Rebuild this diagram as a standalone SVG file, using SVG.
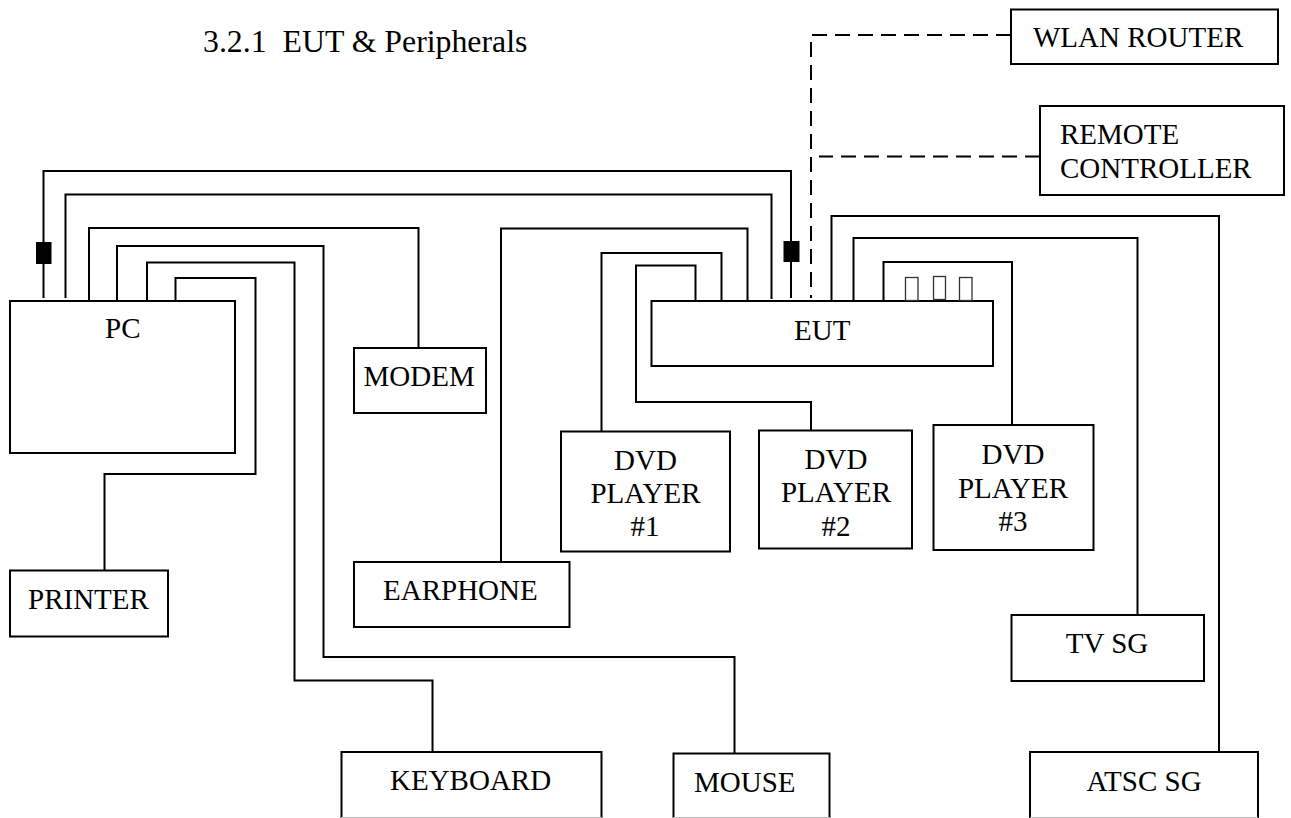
<svg xmlns="http://www.w3.org/2000/svg" width="1291" height="818" viewBox="0 0 1291 818">
<style>
.box{fill:#fff;stroke:#000;stroke-width:2}
.w{fill:none;stroke:#000;stroke-width:2}
.d{fill:none;stroke:#000;stroke-width:2;stroke-dasharray:15 8}
.thin{fill:#fff;stroke:#333;stroke-width:1.3}
.edge{fill:none;stroke:#bbb;stroke-width:1}
text{font-family:"Liberation Serif","Times New Roman",serif;font-size:29px;fill:#000}
.title{font-size:31.8px}
.c{text-anchor:middle}
</style>
<rect width="1291" height="818" fill="#fff"/>
<text class="title" x="203" y="51.500" xml:space="preserve">3.2.1  EUT &amp; Peripherals</text>
<g id="connectors">
<path class="w" d="M43.500 298V171H791V298"/>
<path class="w" d="M65.500 298V194.500H771.500V299"/>
<path class="w" d="M89 301V228H418.500V348"/>
<path class="w" d="M117 301V246H323.500V657H734.500V753"/>
<path class="w" d="M147 301V262.500H294.500V680.500H432.500V752"/>
<path class="w" d="M175.500 301V278H255.500V474H104.500V570"/>
<path class="w" d="M747.500 301V228.500H501V562"/>
<path class="w" d="M721.500 301V253H601.500V431"/>
<path class="w" d="M695.500 301V265.500H636V402H811V430"/>
<path class="w" d="M831.500 301V216H1219V752"/>
<path class="w" d="M853.500 301V238H1137.500V615"/>
<path class="w" d="M883.500 301V262H1012V425"/>
<path class="d" d="M1011 35H811V298"/>
<path class="d" d="M1040 156.500H819"/>
<rect x="36" y="242" width="15.500" height="22" fill="#000"/>
<rect x="783.500" y="241" width="16" height="21" fill="#000"/>
</g>
<g id="pc"><rect class="box" x="10" y="301" width="225" height="152"/><text x="105" y="338">PC</text></g>
<g id="modem"><rect class="box" x="354" y="348" width="132" height="65"/><text x="363.500" y="386">MODEM</text></g>
<g id="eut"><rect class="box" x="651.500" y="301" width="341.500" height="65"/><text x="794" y="339.500">EUT</text>
<rect class="thin" x="905.500" y="277.500" width="12.500" height="23"/><rect class="thin" x="933.500" y="276.500" width="12" height="23"/><rect class="thin" x="959.500" y="277.500" width="12.500" height="23"/></g>
<g id="dvd1"><rect class="box" x="561" y="431.500" width="169" height="120"/><text class="c" x="645.500" y="469.500">DVD</text><text class="c" x="645.500" y="503">PLAYER</text><text class="c" x="645" y="536">#1</text></g>
<g id="dvd2"><rect class="box" x="759" y="430.500" width="153" height="118"/><text class="c" x="836" y="468.500">DVD</text><text class="c" x="836" y="502">PLAYER</text><text class="c" x="836" y="535.500">#2</text></g>
<g id="dvd3"><rect class="box" x="933.500" y="425" width="160" height="125"/><text class="c" x="1013" y="463.500">DVD</text><text class="c" x="1013" y="497.500">PLAYER</text><text class="c" x="1013" y="531">#3</text></g>
<g id="earphone"><rect class="box" x="354" y="562" width="215.500" height="65"/><text x="383" y="600">EARPHONE</text></g>
<g id="printer"><rect class="box" x="10" y="570.500" width="158" height="66"/><text x="28" y="609">PRINTER</text></g>
<g id="tvsg"><rect class="box" x="1011.500" y="615" width="192.500" height="66"/><text class="c" x="1107" y="653">TV SG</text></g>
<g id="keyboard"><rect class="box" x="341.500" y="752" width="260" height="80"/><path class="edge" d="M341 817.500H602"/><text x="390" y="790">KEYBOARD</text></g>
<g id="mouse"><rect class="box" x="673.500" y="753.500" width="156" height="80"/><path class="edge" d="M673 817.500H830"/><text x="694" y="792">MOUSE</text></g>
<g id="atsc"><rect class="box" x="1030" y="752" width="228" height="80"/><path class="edge" d="M1030 817.500H1258"/><text class="c" x="1144" y="790.500">ATSC SG</text></g>
<g id="wlan"><rect class="box" x="1011" y="9.500" width="267" height="54.500"/><text x="1033" y="47">WLAN ROUTER</text></g>
<g id="remote"><rect class="box" x="1040" y="106" width="244" height="89"/><text x="1060" y="144">REMOTE</text><text x="1060" y="178">CONTROLLER</text></g>
</svg>
